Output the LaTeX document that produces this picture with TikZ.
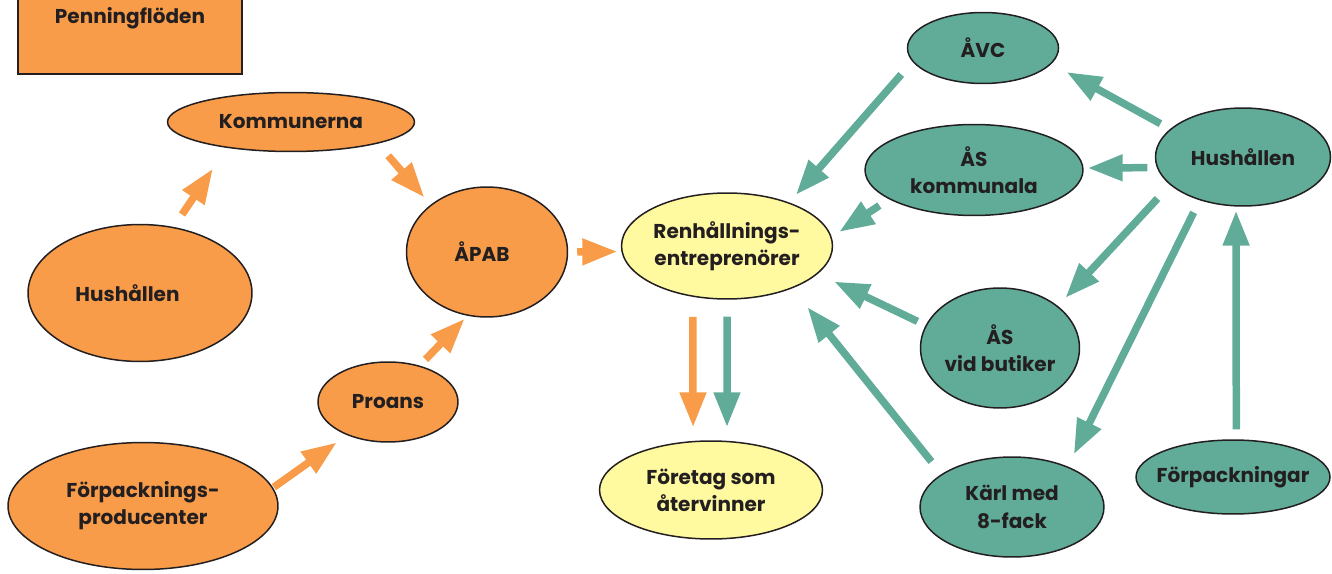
\documentclass[tikz,border=0pt]{standalone}
\usepackage{fontspec}
\setmainfont{Poppins}
\usetikzlibrary{shapes.geometric,arrows.meta}
\definecolor{penorange}{RGB}{248,156,74}
\definecolor{flowteal}{RGB}{96,172,152}
\definecolor{firmyellow}{RGB}{255,249,160}
\definecolor{inkdark}{RGB}{35,31,32}
\begin{document}
\begin{tikzpicture}[
    x=0.02cm, y=-0.02cm,
    every node/.style={text=inkdark, align=center,
      font=\fontsize{11.4}{15.5}\selectfont\bfseries},
    blob/.style={ellipse, draw=inkdark, line width=0.03cm, inner sep=0pt},
    orblob/.style={blob, fill=penorange},
    tlblob/.style={blob, fill=flowteal},
    yeblob/.style={blob, fill=firmyellow},
    flow/.style={line width=0.15cm, -{Triangle[length=0.7cm,width=0.5cm]}},
    orflow/.style={flow, draw=penorange, penorange},
    tlflow/.style={flow, draw=flowteal, flowteal},
  ]
  \useasboundingbox (0,0) rectangle (1332,574);

  % Legend
  \node[draw=inkdark, line width=0.04cm, fill=penorange, minimum width=4.48cm,
        minimum height=1.6cm] (penning) at (130,34) {};
  \node (penningtext) at (130,18) {Penningflöden};

  % Money side
  \node[orblob, minimum width=4.94cm, minimum height=1.18cm] (kommun) at (291,122) {Kommunerna};
  \node[orblob, minimum width=4.48cm, minimum height=2.74cm] (hushallV) at (140,293) {\makebox[2cm]{\hspace*{-0.5cm}Hushållen}};
  \node[orblob, minimum width=3.22cm, minimum height=2.6cm] (apab) at (487,252) {\hspace*{-0.2cm}ÅPAB};
  \node[orblob, minimum width=2.8cm, minimum height=1.6cm] (proans) at (388,402) {Proans};
  \node[orblob, minimum width=5.4cm, minimum height=2.54cm] (fprod) at (143,506) {Förpacknings-\\producenter};

  % Middle
  \node[yeblob, minimum width=4.22cm, minimum height=2.12cm] (renh) at (727,246) {Renhållnings-\\entreprenörer};
  \node[yeblob, minimum width=4.46cm, minimum height=1.96cm] (foretag) at (711,490) {Företag som\\återvinner};

  % Material side
  \node[tlblob, minimum width=3.02cm, minimum height=1.42cm] (avc) at (983,48) {ÅVC};
  \node[tlblob, minimum width=4.36cm, minimum height=1.82cm] (askomm) at (974,170) {ÅS\\kommunala};
  \node[tlblob, minimum width=3.5cm, minimum height=1.96cm] (hushallH) at (1243,157) {Hushållen};
  \node[tlblob, minimum width=3.18cm, minimum height=2.4cm] (asbutik) at (1000,348) {ÅS\\vid butiker};
  \node[tlblob, minimum width=3.68cm, minimum height=2.0cm] (karl) at (1012,507) {Kärl med\\8-fack};
  \node[tlblob, minimum width=3.88cm, minimum height=1.48cm] (forpack) at (1233,477) {\makebox[2.6cm]{Förpackningar}};

  % Money flows
  \draw[orflow, shorten <=0.3cm, shorten >=0.5cm] (hushallV.63) -- (kommun.202.5);
  \draw[orflow, shorten <=0.32cm, shorten >=0.19cm] (kommun.346) -- (apab.140);
  \draw[orflow, shorten <=0.18cm, shorten >=0.08cm] (apab.0) -- (renh.183);
  \draw[orflow, shorten <=0.02cm, shorten >=0.25cm] (fprod.8) -- (proans.219);
  \draw[orflow, shorten <=0.17cm, shorten >=0.08cm] (proans.49) -- (apab.253);
  \draw[orflow, shorten <=0.4cm, shorten >=0.27cm] (renh.236) -- (foretag.110);

  % Material flows
  \draw[tlflow, shorten <=0.34cm, shorten >=0.27cm] (renh.270) -- (foretag.72);
  \draw[tlflow, shorten <=0.34cm, shorten >=0.2cm] (avc.191) -- (renh.35);
  \draw[tlflow, shorten <=0.23cm, shorten >=0.18cm] (askomm.199) -- (renh.5);
  \draw[tlflow, shorten <=0.18cm, shorten >=0.36cm] (asbutik.163) -- (renh.-17.5);
  \draw[tlflow, shorten <=0.32cm, shorten >=0.48cm] (karl.155) -- (renh.-33.5);
  \draw[tlflow, shorten <=0.22cm, shorten >=0.34cm] (hushallH.159) -- (avc.-13);
  \draw[tlflow, shorten <=0.19cm, shorten >=0.08cm] (hushallH.187) -- (askomm.1);
  \draw[tlflow, shorten <=0.37cm, shorten >=0.22cm] (hushallH.201) -- (asbutik.36.6);
  \draw[tlflow, shorten <=0.27cm, shorten >=0.27cm] (hushallH.225) -- (karl.36);
  \draw[tlflow, shorten <=0.2cm, shorten >=0.08cm] (forpack.85) -- (hushallH.262);
\end{tikzpicture}
\end{document}
